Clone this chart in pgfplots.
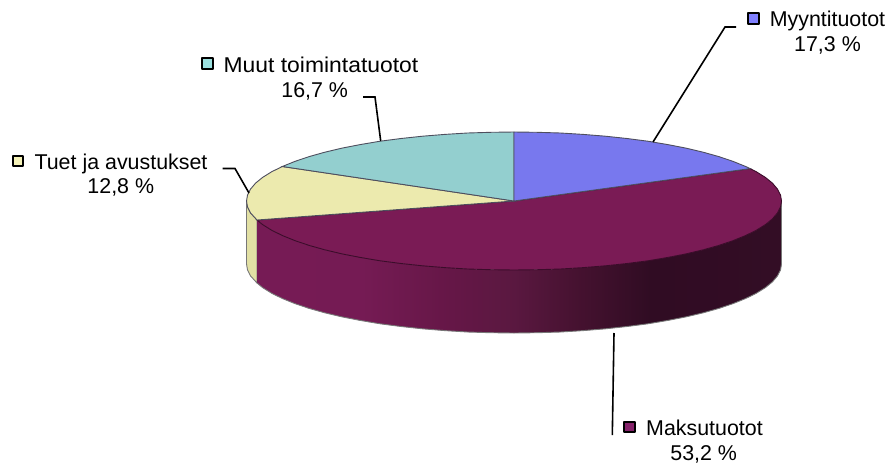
\documentclass[border=0pt]{standalone}
\usepackage{fontspec}
\setmainfont{Liberation Sans}
\usepackage{graphicx}
\usepackage{pgfplots}
\pgfplotsset{compat=1.18}
\definecolor{cBlue}{HTML}{7878EE}
\definecolor{cTeal}{HTML}{93CFCF}
\definecolor{cYel}{HTML}{ECEAAE}
\definecolor{cYelS}{HTML}{E2E0A4}
\definecolor{cMar}{HTML}{7A1B55}
\definecolor{cMarL}{HTML}{3B0C2A}
\definecolor{cEdge}{HTML}{4E4E5E}
\definecolor{cRim}{HTML}{777777}
\definecolor{kBlue}{HTML}{8080FF}
\definecolor{kTeal}{HTML}{9BE0DF}
\definecolor{kYel}{HTML}{F5F2B8}
\definecolor{kMar}{HTML}{85226A}
\pgfdeclarehorizontalshading{maksuside}{100bp}{
 rgb(0bp)=(0.463,0.106,0.333);
 rgb(25bp)=(0.463,0.106,0.333);
 rgb(35bp)=(0.459,0.106,0.329);
 rgb(43bp)=(0.400,0.090,0.280);
 rgb(49.5bp)=(0.353,0.094,0.251);
 rgb(56bp)=(0.267,0.067,0.184);
 rgb(62.5bp)=(0.188,0.047,0.137);
 rgb(75bp)=(0.200,0.050,0.145);
 rgb(100bp)=(0.200,0.050,0.145)}
\newcommand{\lab}[3]{\node[anchor=base,inner sep=0pt,text=black,font=\fontsize{21.4}{24}\selectfont] at (axis cs:#1,#2) {#3};}
\pgfplotsset{key/.style={only marks,mark=square*,mark size=5.4pt,mark options={fill=#1,draw=black,line width=2.1pt,line join=round}}}
\begin{document}
\begin{tikzpicture}
\path[use as bounding box] (0,0) rectangle (888pt,464pt);
\begin{axis}[scale only axis,width=888pt,height=464pt,at={(0,0)},anchor=south west,
  xmin=0,xmax=888,ymin=0,ymax=464,y dir=reverse,hide axis,clip=false]
% side: Tuet
\addplot[fill=cYelS,draw=cRim,line width=0.9pt] coordinates {(246.5,201)(247.5,207)(250.6,213)(257,220)(257,283)(250.6,276)(247.5,270)(246.5,264)} -- cycle;
% side: Maksu
\addplot[draw=none,shade,shading=maksuside] coordinates {(781.5,201)(780.5,207)(777.4,213)(772.4,218.9)(765.4,224.6)(756.4,230.2)(745.7,235.5)(733.1,240.6)(718.9,245.4)(703.2,249.8)(685.9,253.9)(667.4,257.5)(647.8,260.8)(627,263.5)(605.5,265.8)(583.2,267.6)(560.5,269)(537.3,269.7)(514,270)(490.7,269.7)(467.5,269)(444.8,267.6)(422.5,265.8)(401,263.5)(380.2,260.8)(360.6,257.5)(342.1,253.9)(324.8,249.8)(309.1,245.4)(294.9,240.6)(282.3,235.5)(271.6,230.2)(262.6,224.6)(257,220)(257,283)(262.6,287.6)(271.6,293.2)(282.3,298.5)(294.9,303.6)(309.1,308.4)(324.8,312.8)(342.1,316.9)(360.6,320.5)(380.2,323.8)(401,326.5)(422.5,328.8)(444.8,330.6)(467.5,332)(490.7,332.7)(514,333)(537.3,332.7)(560.5,332)(583.2,330.6)(605.5,328.8)(627,326.5)(647.8,323.8)(667.4,320.5)(685.9,316.9)(703.2,312.8)(718.9,308.4)(733.1,303.6)(745.7,298.5)(756.4,293.2)(765.4,287.6)(772.4,281.9)(777.4,276)(780.5,270)(781.5,264)} -- cycle;
% rim of the side
\addplot[draw=cRim,line width=0.9pt] coordinates {(781.5,201)(781.5,264)(780.5,270)(777.4,276)(772.4,281.9)(765.4,287.6)(756.4,293.2)(745.7,298.5)(733.1,303.6)(718.9,308.4)(703.2,312.8)(685.9,316.9)(667.4,320.5)(647.8,323.8)(627,326.5)(605.5,328.8)(583.2,330.6)(560.5,332)(537.3,332.7)(514,333)(490.7,332.7)(467.5,332)(444.8,330.6)(422.5,328.8)(401,326.5)(380.2,323.8)(360.6,320.5)(342.1,316.9)(324.8,312.8)(309.1,308.4)(294.9,303.6)(282.3,298.5)(271.6,293.2)(262.6,287.6)(257,283)};
% top: Maksu
\addplot[fill=cMar,draw=cMarL,line width=0.9pt] coordinates {(514,201)(750.2,168.6)(756.4,171.8)(765.4,177.4)(772.4,183.1)(777.4,189)(780.5,195)(781.5,201)(780.5,207)(777.4,213)(772.4,218.9)(765.4,224.6)(756.4,230.2)(745.7,235.5)(733.1,240.6)(718.9,245.4)(703.2,249.8)(685.9,253.9)(667.4,257.5)(647.8,260.8)(627,263.5)(605.5,265.8)(583.2,267.6)(560.5,269)(537.3,269.7)(514,270)(490.7,269.7)(467.5,269)(444.8,267.6)(422.5,265.8)(401,263.5)(380.2,260.8)(360.6,257.5)(342.1,253.9)(324.8,249.8)(309.1,245.4)(294.9,240.6)(282.3,235.5)(271.6,230.2)(262.6,224.6)(257,220)} -- cycle;
% top: Tuet
\addplot[fill=cYel,draw=cEdge,line width=0.9pt] coordinates {(514,201)(257,220)(250.6,213)(247.5,207)(246.5,201)(247.5,195)(250.6,189)(255.6,183.1)(262.6,177.4)(271.6,171.8)(282.3,166.5)} -- cycle;
% top: Muut
\addplot[fill=cTeal,draw=cEdge,line width=0.9pt] coordinates {(514,201)(282.3,166.5)(294.9,161.4)(309.1,156.6)(324.8,152.2)(342.1,148.1)(360.6,144.5)(380.2,141.2)(401,138.5)(422.5,136.2)(444.8,134.4)(467.5,133)(490.7,132.3)(514,132)} -- cycle;
% top: Myynti
\addplot[fill=cBlue,draw=cEdge,line width=0.9pt] coordinates {(514,201)(514,132)(537.3,132.3)(560.5,133)(583.2,134.4)(605.5,136.2)(627,138.5)(647.8,141.2)(667.4,144.5)(685.9,148.1)(703.2,152.2)(718.9,156.6)(733.1,161.4)(745.7,166.5)(750.2,168.6)} -- cycle;
% leader lines
\addplot[black,line width=1.6pt] coordinates {(653,142)(725,27)(736,27)};
\addplot[black,line width=1.6pt] coordinates {(380.7,141)(375,97)(363,97)};
\addplot[black,line width=1.6pt] coordinates {(249,193)(235,168.5)(222.7,168.5)};
\addplot[black,line width=1.6pt] coordinates {(614,333)(612.3,435)};
% legend keys
\addplot[key=kBlue] coordinates {(753.3,18.7)};
\addplot[key=kTeal] coordinates {(207.7,63.8)};
\addplot[key=kYel] coordinates {(18,161)};
\addplot[key=kMar] coordinates {(629.3,427)};
% labels
\lab{827.5}{26.7}{Myyntituotot}
\lab{827.5}{51.7}{17,3 \%}
\lab{321}{72.7}{\scalebox{1.07}[1]{Muut toimintatuotot}}
\lab{314.7}{97}{16,7 \%}
\lab{121}{169.3}{Tuet ja avustukset}
\lab{120.8}{193}{12,8 \%}
\lab{704.5}{435}{Maksutuotot}
\lab{703.7}{460}{53,2 \%}
\end{axis}
\end{tikzpicture}
\end{document}
